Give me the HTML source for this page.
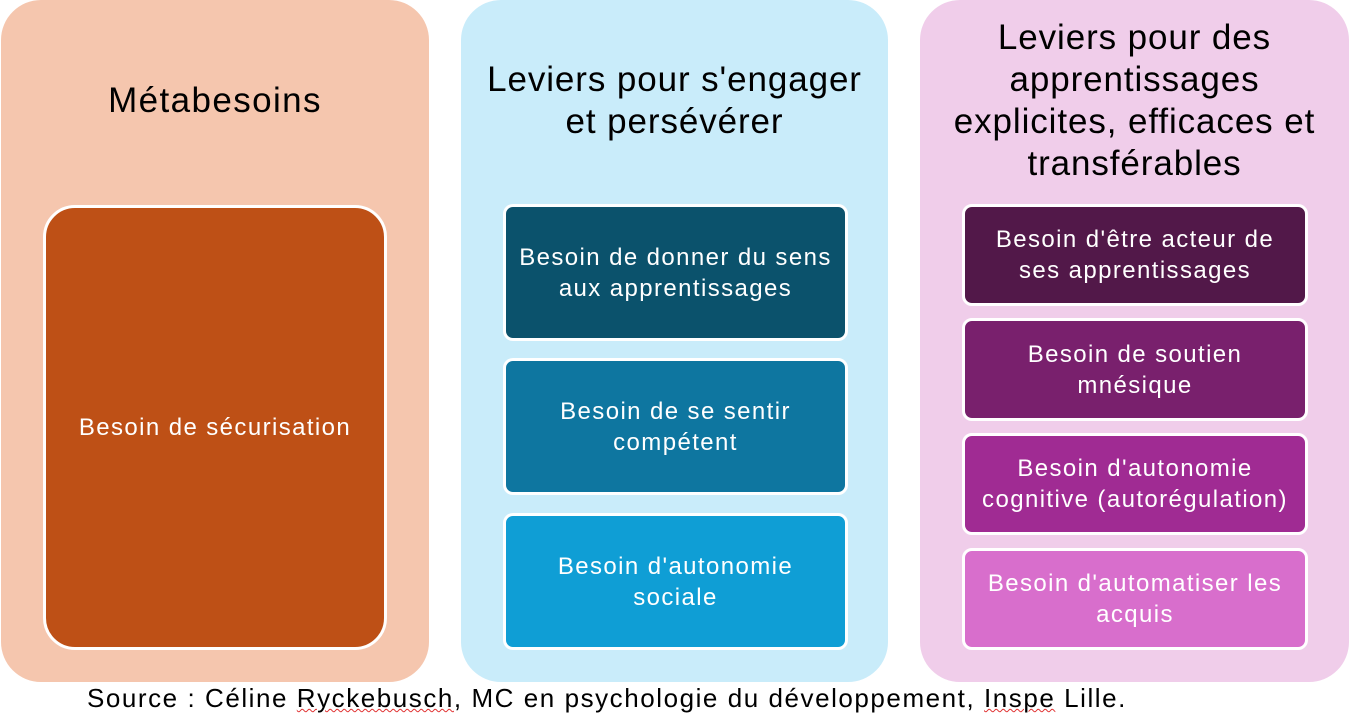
<!DOCTYPE html>
<html><head><meta charset="utf-8"><style>
*{margin:0;padding:0;box-sizing:border-box}
body{width:1354px;height:715px;background:#fff;position:relative;overflow:hidden;font-family:"Liberation Sans",sans-serif}
.col{position:absolute;top:0;height:682px;border-radius:40px}
.t{position:absolute;left:0;right:0;text-align:center;color:#000;font-size:35px;letter-spacing:0.9px;line-height:42px;white-space:nowrap}
.b{position:absolute;border:3px solid #fff;display:flex;align-items:center;justify-content:center;text-align:center;color:#fff;font-size:24px;letter-spacing:1.4px;line-height:31px;border-radius:10px;white-space:nowrap}
.src{position:absolute;left:87px;top:683px;font-size:26px;letter-spacing:1.55px;color:#000;white-space:nowrap}
.sq{text-decoration:underline wavy #e03030;text-decoration-thickness:1px}
</style></head><body>
<div class="col" style="left:1px;width:428px;background:#f5c6ae"></div>
<div class="col" style="left:461px;width:427px;background:#c9ecfa"></div>
<div class="col" style="left:920px;width:429px;background:#f0cdea"></div>

<div class="t" style="left:1px;width:428px;top:80px;letter-spacing:1.4px">Métabesoins</div>
<div class="t" style="left:461px;width:427px;top:59px">Leviers pour s'engager<br>et persévérer</div>
<div class="t" style="left:920px;width:429px;top:17px">Leviers pour des<br>apprentissages<br>explicites, efficaces et<br>transférables</div>

<div class="b" style="left:43px;top:205px;width:344px;height:445px;background:#be5016;border-radius:32px">Besoin de sécurisation</div>

<div class="b" style="left:503px;top:204px;width:345px;height:137px;background:#0b526c">Besoin de donner du sens<br>aux apprentissages</div>
<div class="b" style="left:503px;top:358px;width:345px;height:137px;background:#0e76a0">Besoin de se sentir<br>compétent</div>
<div class="b" style="left:503px;top:513px;width:345px;height:137px;background:#0f9ed5">Besoin d'autonomie<br>sociale</div>

<div class="b" style="left:962px;top:204px;width:346px;height:102px;background:#521849">Besoin d'être acteur de<br>ses apprentissages</div>
<div class="b" style="left:962px;top:318px;width:346px;height:103px;background:#79206d">Besoin de soutien<br>mnésique</div>
<div class="b" style="left:962px;top:433px;width:346px;height:102px;background:#a02b93">Besoin d'autonomie<br>cognitive (autorégulation)</div>
<div class="b" style="left:962px;top:548px;width:346px;height:102px;background:#d86ecc">Besoin d'automatiser les<br>acquis</div>

<div class="src">Source : Céline <span class="sq">Ryckebusch</span>, MC en psychologie du développement, <span class="sq">Inspe</span> Lille.</div>
</body></html>
